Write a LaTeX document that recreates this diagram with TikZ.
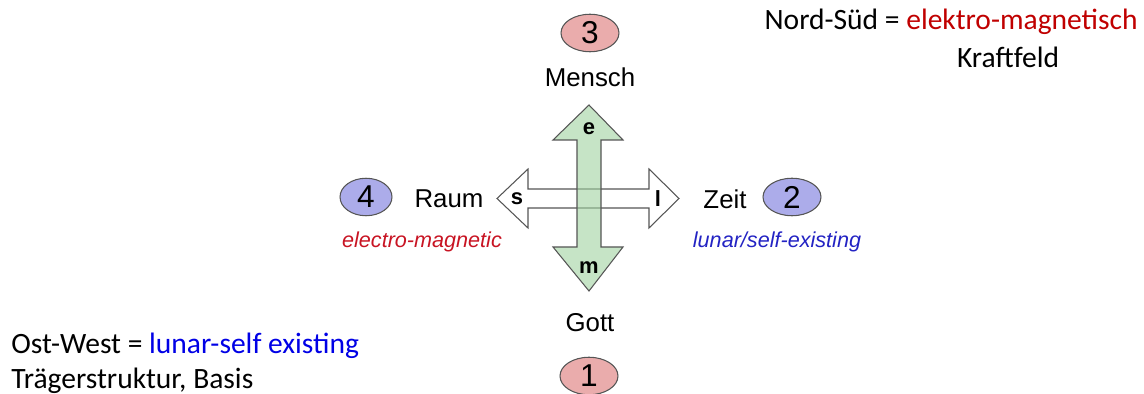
\documentclass[tikz,border=0pt]{standalone}
\usepackage{fontspec}
\setmainfont{Liberation Sans}
\newfontfamily\notefont{Carlito}
\usetikzlibrary{positioning, shapes.geometric}
\definecolor{numred}{RGB}{234,172,172}
\definecolor{numblue}{RGB}{172,172,234}
\definecolor{axisgreen}{RGB}{160,210,160}
\definecolor{linegray}{RGB}{85,85,85}
\definecolor{notered}{RGB}{192,0,0}
\definecolor{noteblue}{RGB}{0,0,230}
\definecolor{tagred}{RGB}{200,20,35}
\definecolor{tagblue}{RGB}{35,35,195}

\begin{document}
\begin{tikzpicture}[x=0.02cm,y=-0.02cm,
    num/.style={ellipse, draw=linegray, line width=0.6pt, minimum width=1.16cm,
        minimum height=0.75cm, inner sep=0pt, font=\fontsize{18}{18}\selectfont},
    word/.style={font=\fontsize{14.7}{16}\selectfont, inner sep=0pt},
    tag/.style={font=\fontsize{12.3}{14}\selectfont\itshape, inner sep=0pt},
    pole/.style={font=\fontsize{12.5}{13}\selectfont\bfseries, inner sep=0pt},
    note/.style={font=\notefont\fontsize{16.8}{20}\selectfont, inner sep=0pt}]

    \useasboundingbox (0,0) rectangle (1144,394);

    % east-west arrow
    \filldraw[fill=white, draw=linegray, line width=0.6pt] (497,198.5) -- (528,169) -- (528,189)
        -- (649,189) -- (649,169) -- (679,198.5) -- (649,228) -- (649,208)
        -- (528,208) -- (528,228) -- cycle;
    % north-south arrow
    \filldraw[fill=axisgreen, fill opacity=0.6, draw=linegray, line width=0.6pt] (589,105) -- (623,140)
        -- (601,140) -- (601,247) -- (623,247) -- (589,291) -- (553,247) -- (577,247)
        -- (577,140) -- (553,140) -- cycle;

    \node[pole] (e) at (589,129) {e};
    \node[pole] (m) at (589,268) {m};
    \node[pole] (s) at (517,199) {s};
    \node[pole] (l) at (658,199) {l};

    \node[num, fill=numred] (n3) at (590,33) {3};
    \node[word] (mensch) at (590,77) {Mensch};
    \node[word] (gott) at (590,323) {Gott};
    \node[num, fill=numred] (n1) at (589,376) {1};

    \node[num, fill=numblue, minimum width=1.04cm] (n4) at (366,197) {4};
    \node[word] (raum) at (449,199) {Raum};
    \node[word] (zeit) at (725,199) {Zeit};
    \node[num, fill=numblue] (n2) at (792,197) {2};

    \node[tag, text=tagred] (em) at (422,242) {electro-magnetic};
    \node[tag, text=tagblue] (lse) at (777,242) {lunar/self-existing};

    \node[note, anchor=east] (ns) at (1138,22) {Nord-Süd = \textcolor{notered}{elektro-magnetisch}};
    \node[note] (kraft) at (1008,57) {Kraftfeld};
    \node[note, anchor=west] (ow) at (11,346) {Ost-West = \textcolor{noteblue}{lunar-self existing}};
    \node[note, anchor=west] (basis) at (11,381) {Trägerstruktur, Basis};
\end{tikzpicture}
\end{document}
